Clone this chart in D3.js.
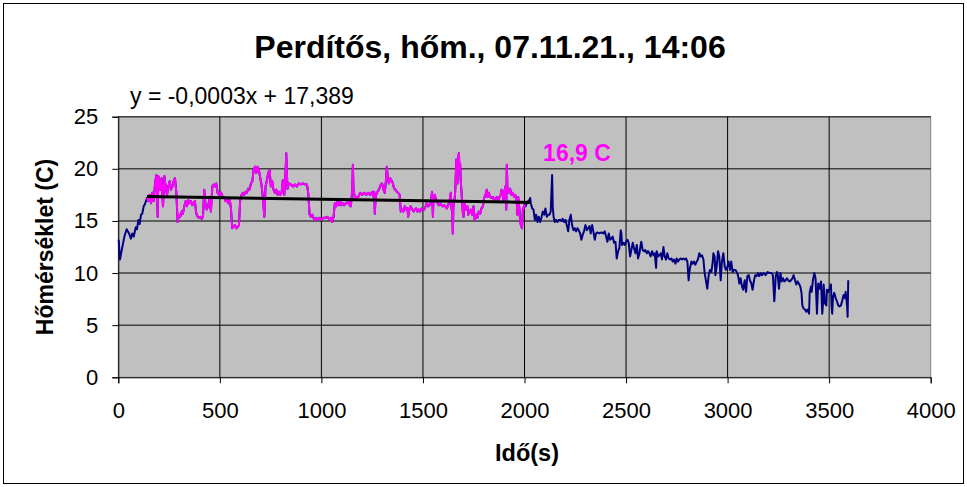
<!DOCTYPE html>
<html lang="hu">
<head>
<meta charset="UTF-8" />
<title>Perdítős, hőm.</title>
<style>
  body { margin: 0; background: #fff; }
  text { font-family: Arial, "Liberation Sans", sans-serif; }
</style>
</head>
<body>
<script src="https://cdn.jsdelivr.net/npm/d3@7"></script>
<div id="app"></div>
<script>
// warm-up before the measured section (navy)
const rise = [[2,13.2],[8,11.3],[17,12.2],[30,13.5],[41,14.2],[53,13.8],[62,13.3],[69,13.8],[76,13.5],[86,14.4],[92,14.2],[99,15.1],[105,14.7],[112,15.6],[118,15.7],[125,16.4],[131,16.6],[141,17.2]];

// measured section used for the trend (magenta)
const measured = [[141,17.2],[148,16.9],[154,17.5],[161,16.7],[168,17.7],[174,16.9],[181,18.6],[187,19.4],[190,18.0],[194,15.4],[197,19.3],[204,18.6],[207,18.0],[213,19.1],[220,16.4],[227,19.3],[233,18.3],[240,17.5],[246,18.3],[253,18.8],[259,18.0],[266,18.3],[272,18.8],[279,19.1],[286,17.7],[292,14.9],[299,15.6],[305,15.4],[312,15.9],[318,15.7],[325,16.4],[332,16.9],[338,16.4],[345,17.0],[351,16.7],[358,16.9],[364,16.5],[371,16.7],[377,16.9],[384,15.7],[391,15.4],[397,15.3],[404,15.4],[410,15.2],[417,15.4],[423,18.0],[430,16.4],[436,16.1],[443,16.5],[450,17.2],[456,15.9],[463,18.3],[469,18.5],[476,18.3],[482,18.6],[489,17.7],[496,17.5],[502,17.8],[509,17.6],[515,17.2],[522,17.3],[528,16.9],[535,17.0],[541,16.7],[548,17.2],[555,16.1],[561,14.3],[568,14.5],[574,14.6],[581,14.3],[587,14.4],[594,14.6],[600,17.0],[607,17.5],[614,17.7],[620,17.5],[627,17.8],[633,17.7],[640,18.1],[646,18.0],[653,18.6],[660,18.8],[666,19.9],[673,20.2],[679,19.6],[686,20.2],[692,19.9],[699,19.1],[705,18.5],[712,17.2],[719,15.4],[725,18.3],[732,18.9],[738,19.6],[745,19.9],[751,18.3],[758,18.8],[764,18.0],
  [771,17.7],[778,18.0],[784,17.5],[791,17.8],[797,17.5],[804,17.7],[810,18.9],[817,17.5],[824,19.9],[827,21.5],[830,19.6],[833,18.1],[840,18.6],[850,18.5],[860,18.3],[870,18.5],[879,18.3],[889,18.6],[899,18.5],[909,18.6],[919,18.5],[929,18.5],[935,17.7],[942,15.6],[948,15.4],[955,15.6],[961,15.3],[968,15.1],[975,15.3],[981,15.1],[991,15.3],[1001,15.1],[1011,15.3],[1020,15.3],[1030,15.4],[1040,15.1],[1047,15.3],[1053,14.9],[1060,15.4],[1066,16.7],[1073,16.4],[1080,16.9],[1086,16.5],[1093,16.9],[1099,16.5],[1106,16.7],[1112,16.5],[1119,16.7],[1125,16.7],[1132,16.9],[1139,16.5],[1145,16.4],[1152,18.0],[1155,20.4],[1158,18.0],[1165,17.2],[1171,17.3],[1181,17.3],[1191,17.7],[1201,17.5],[1211,17.7],[1221,17.5],[1230,17.7],[1240,17.5],[1250,17.8],[1257,17.3],[1260,17.8],[1263,15.7],[1267,17.3],[1273,17.7],[1283,18.0],[1293,18.5],[1299,18.6],[1306,18.0],[1312,17.7],[1319,19.1],[1322,20.2],[1326,19.3],[1332,18.6],[1339,19.1],[1345,18.9],[1352,18.6],[1358,18.1],[1365,18.0],[1371,17.8],[1378,17.7],[1385,17.5],[1391,15.9],[1398,16.1],[1404,15.9],[1411,16.4],[1417,16.1],[1424,16.2],[1427,15.4],[1434,16.2],[1440,16.4],[1447,16.1],[1454,15.9],[1460,16.1],[1467,16.2],[1473,15.9],[1480,16.1],[1486,15.9],[1493,16.2],[1499,16.1],[1506,16.1],[1513,16.4],[1519,16.7],[1526,16.4],[1532,16.5],[1539,16.9],[1545,17.8],[1549,15.4],[1552,17.2],
  [1559,17.5],[1565,16.9],[1572,16.7],[1578,16.5],[1585,16.7],[1591,16.5],[1598,16.4],[1604,16.5],[1611,16.4],[1618,16.2],[1624,16.5],[1631,16.9],[1637,17.7],[1641,16.1],[1644,16.4],[1647,13.8],[1650,16.4],[1657,17.3],[1660,18.3],[1664,20.9],[1667,20.5],[1670,18.6],[1673,21.0],[1677,21.5],[1680,19.9],[1683,20.5],[1686,18.9],[1690,17.7],[1696,15.9],[1700,15.4],[1703,16.9],[1706,16.5],[1713,16.1],[1719,16.4],[1723,15.6],[1729,15.9],[1736,16.1],[1742,15.6],[1749,16.4],[1755,15.1],[1762,15.6],[1768,15.3],[1775,15.9],[1782,15.7],[1788,16.2],[1795,16.4],[1801,17.2],[1808,17.5],[1814,18.0],[1818,17.3],[1824,17.7],[1831,17.3],[1837,17.2],[1844,17.3],[1850,17.0],[1857,17.2],[1864,17.3],[1870,16.9],[1877,17.3],[1883,17.5],[1887,18.0],[1893,17.7],[1896,17.0],[1900,17.7],[1906,18.3],[1910,16.1],[1913,20.4],[1916,18.0],[1923,17.7],[1929,18.1],[1936,17.5],[1942,17.7],[1949,17.3],[1955,17.5],[1962,16.7],[1965,15.6],[1969,17.3],[1972,16.7],[1975,16.1],[1978,15.1],[1982,14.6],[1988,14.3],[1992,16.2],[1995,16.1],[1998,16.5],[2005,16.4]];

// cooling after the measured section (navy)
const cooling = [[2011,16.7],[2018,16.9],[2024,17.0],[2028,17.2],[2031,16.7],[2038,16.2],[2044,16.1],[2051,15.1],[2057,15.6],[2064,14.9],[2070,15.4],[2077,14.9],[2083,15.3],[2090,15.9],[2097,15.6],[2103,16.2],[2110,15.4],[2116,15.6],[2123,15.6],[2129,15.9],[2136,19.4],[2139,16.4],[2143,15.4],[2149,14.9],[2156,15.1],[2162,14.9],[2169,15.1],[2175,15.1],[2182,15.0],[2188,15.2],[2195,14.9],[2202,15.1],[2208,14.6],[2215,14.0],[2221,15.1],[2228,15.6],[2234,14.6],[2241,14.1],[2247,14.3],[2254,14.0],[2261,14.3],[2267,14.1],[2274,13.8],[2280,13.2],[2287,13.7],[2293,14.0],[2300,14.6],[2307,14.1],[2313,14.3],[2320,14.5],[2326,13.8],[2333,14.6],[2339,14.0],
  [2346,13.2],[2352,13.8],[2359,13.9],[2369,13.8],[2379,13.9],[2388,13.8],[2395,14.0],[2402,13.5],[2408,13.0],[2415,13.8],[2421,13.2],[2428,13.3],[2434,13.5],[2441,12.9],[2448,13.0],[2454,11.4],[2461,12.1],[2467,12.4],[2474,14.1],[2477,13.8],[2480,12.7],[2487,12.9],[2493,12.7],[2500,13.0],[2507,13.2],[2513,12.9],[2520,11.6],[2526,12.2],[2533,12.9],[2539,12.4],[2546,11.9],[2553,12.7],[2559,11.4],[2566,11.9],[2572,12.7],[2575,13.0],[2582,12.2],[2589,12.1],[2595,12.2],[2602,11.9],[2608,12.1],[2615,11.9],[2621,11.6],[2628,12.1],[2635,11.7],[2641,11.9],[2648,10.5],[2651,12.1],[2658,11.6],[2664,11.7],[2671,11.9],[2677,11.3],[2684,12.5],[2690,11.6],[2697,11.3],[2703,11.9],[2710,11.4],[2717,11.3],[2723,11.4],[2730,11.1],[2736,11.3],[2743,10.9],[2749,11.4],[2756,11.1],[2762,11.3],[2769,11.4],[2776,11.3],[2782,11.4],[2789,11.3],[2795,11.4],[2802,11.1],[2808,9.3],[2812,10.1],[2815,10.5],[2822,11.1],[2828,10.9],[2835,11.1],[2841,10.8],[2848,11.1],[2854,11.3],[2861,11.9],[2867,11.6],[2874,11.7],[2881,11.3],[2887,10.0],[2894,9.2],[2900,8.5],[2907,9.8],[2913,10.3],[2920,10.1],[2927,11.1],[2930,11.9],[2936,11.6],[2940,9.8],[2946,10.6],[2953,12.1],[2959,11.6],[2966,9.3],[2972,11.1],[2979,11.9],[2986,10.6],[2992,10.3],[2999,10.6],[3005,11.1],[3012,10.3],[3018,11.1],[3025,10.1],[3031,10.3],[3038,10.3],[3045,10.1],[3051,9.8],[3058,9.0],[3064,9.5],[3071,8.7],[3077,8.4],[3084,9.3],[3091,8.2],[3097,9.7],[3104,9.8],[3110,9.3],[3117,9.0],[3123,8.4],[3130,9.3],[3136,9.8],[3143,9.7],[3150,10.0],[3156,9.7],[3163,10.0],[3169,9.8],
  [3177,10.0],[3187,9.8],[3197,10.1],[3207,10.0],[3217,10.0],[3223,9.8],[3230,7.3],[3237,9.7],[3243,10.1],[3246,10.0],[3253,8.5],[3260,10.0],[3266,9.2],[3273,9.5],[3279,9.2],[3286,9.3],[3292,9.5],[3299,9.3],[3305,9.2],[3312,9.3],[3319,9.5],[3325,9.8],[3332,9.3],[3338,8.9],[3345,9.2],[3351,9.0],[3358,8.7],[3364,8.1],[3368,6.9],[3374,6.6],[3381,6.5],[3387,6.3],[3394,6.5],[3401,6.1],[3404,8.1],[3410,8.7],[3414,8.2],[3420,9.3],[3427,10.0],[3433,9.5],[3440,6.1],[3446,9.0],[3453,8.5],[3460,9.2],[3466,6.1],[3469,6.9],[3473,8.9],[3479,7.1],[3486,6.9],[3489,8.4],[3496,8.2],[3502,8.5],[3509,8.9],[3512,6.8],[3515,6.1],[3519,7.7],[3525,8.1],[3532,7.6],[3538,7.3],[3545,6.9],[3551,6.8],[3558,6.9],[3565,7.4],[3571,7.9],[3578,7.6],[3581,8.2],[3588,6.9],[3591,5.8],[3594,9.3]];

// trendline y = -0,0003x + 17,389 over the measured section
const trendSlope = -0.0003;
const trendIntercept = 17.389;
const trendRange = [141, 2030];

const xTicks = [0, 500, 1000, 1500, 2000, 2500, 3000, 3500, 4000];
const yTicks = [0, 5, 10, 15, 20, 25];

const w = 967, h = 487;
const plotL = 118.3, plotR = 930.7, plotT = 116.7, plotB = 377.3;
const font = "Arial, 'Liberation Sans', sans-serif";

const svg = d3.select("#app").append("svg")
  .attr("width", w)
  .attr("height", h);

// outer frame
svg.append("rect")
  .attr("x", 3.5).attr("y", 3.5)
  .attr("width", w - 7).attr("height", h - 7)
  .attr("fill", "#fff")
  .attr("stroke", "#000")
  .attr("stroke-width", 1);

const x = d3.scaleLinear().domain([0, 4000]).range([plotL, plotR]);
const y = d3.scaleLinear().domain([0, 25]).range([plotB, plotT]);

// plot area
svg.append("rect")
  .attr("x", plotL).attr("y", plotT)
  .attr("width", plotR - plotL).attr("height", plotB - plotT)
  .attr("fill", "#c0c0c0")
  .attr("stroke", "#808080");

// gridlines
svg.append("g")
  .selectAll("line")
  .data(yTicks.slice(1))
  .enter()
  .append("line")
  .attr("x1", plotL).attr("x2", plotR)
  .attr("y1", d => y(d)).attr("y2", d => y(d))
  .attr("stroke", "#404040")
  .attr("stroke-width", 1.5);

svg.append("g")
  .selectAll("line")
  .data(xTicks.slice(1, -1))
  .enter()
  .append("line")
  .attr("x1", d => x(d)).attr("x2", d => x(d))
  .attr("y1", plotT).attr("y2", plotB)
  .attr("stroke", "#000")
  .attr("stroke-width", 1);

// axes
const xAxis = d3.axisBottom(x).tickValues(xTicks).tickFormat(d3.format("d")).tickSize(6).tickPadding(19);
const yAxis = d3.axisLeft(y).tickValues(yTicks).tickFormat(d3.format("d")).tickSize(6).tickPadding(14);

svg.append("g")
  .attr("transform", "translate(0," + plotB + ")")
  .call(xAxis)
  .call(g => g.select(".domain").attr("stroke", "#000"))
  .selectAll("text")
  .attr("font-size", 22)
  .attr("font-family", font)
  .attr("fill", "#000");

svg.append("g")
  .attr("transform", "translate(" + plotL + ",0)")
  .call(yAxis)
  .call(g => g.select(".domain").attr("stroke", "#000"))
  .selectAll("text")
  .attr("font-size", 22)
  .attr("font-family", font)
  .attr("fill", "#000");

// series
const line = d3.line().x(d => x(d[0])).y(d => y(d[1]));

svg.append("path")
  .datum(rise.concat(measured, cooling))
  .attr("d", line)
  .attr("fill", "none")
  .attr("stroke", "#000080")
  .attr("stroke-width", 2)
  .attr("stroke-linejoin", "round");

svg.append("path")
  .datum(measured)
  .attr("d", line)
  .attr("fill", "none")
  .attr("stroke", "#ff00ff")
  .attr("stroke-width", 2)
  .attr("stroke-linejoin", "round");

svg.append("path")
  .datum(trendRange.map(t => [t, trendSlope * t + trendIntercept]))
  .attr("d", line)
  .attr("fill", "none")
  .attr("stroke", "#000")
  .attr("stroke-width", 3);

// texts
svg.append("text")
  .attr("x", 490).attr("y", 58)
  .attr("text-anchor", "middle")
  .attr("font-size", 32)
  .attr("font-weight", "bold")
  .text("Perdítős, hőm., 07.11.21., 14:06");

svg.append("text")
  .attr("x", 130).attr("y", 104)
  .attr("font-size", 23)
  .text("y = -0,0003x + 17,389");

svg.append("text")
  .attr("x", 577).attr("y", 161)
  .attr("text-anchor", "middle")
  .attr("font-size", 23)
  .attr("font-weight", "bold")
  .attr("fill", "#ff00ff")
  .text("16,9 C");

svg.append("text")
  .attr("transform", "translate(53," + ((plotT + plotB) / 2) + ") rotate(-90)")
  .attr("text-anchor", "middle")
  .attr("font-size", 23)
  .attr("font-weight", "bold")
  .text("Hőmérséklet (C)");

svg.append("text")
  .attr("x", 527).attr("y", 461)
  .attr("text-anchor", "middle")
  .attr("font-size", 23.5)
  .attr("font-weight", "bold")
  .text("Idő(s)");
</script>
</body>
</html>
